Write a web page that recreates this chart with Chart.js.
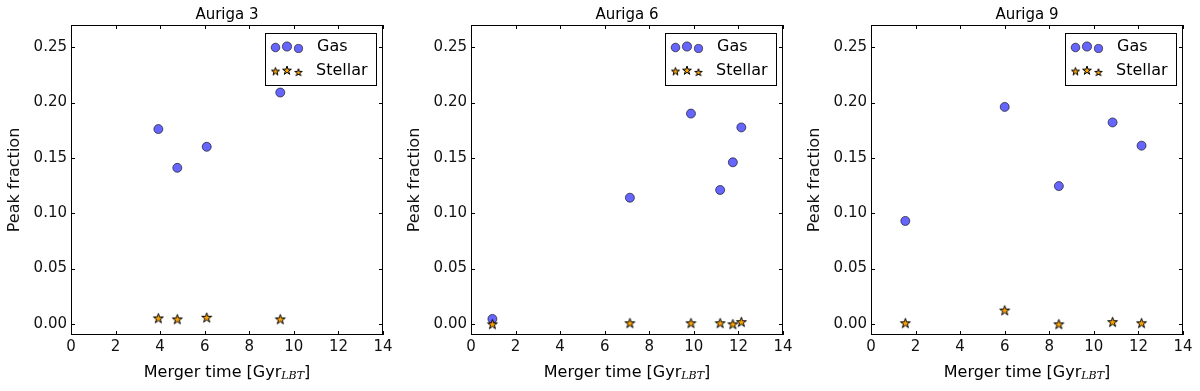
<!DOCTYPE html>
<html>
<head>
<meta charset="utf-8">
<script src="https://cdn.jsdelivr.net/npm/chart.js@4"></script>
<style>
  body { margin: 0; background: #fff; }
  .panel { position: absolute; top: 0; width: 400px; height: 391px; }
</style>
</head>
<body>
<div class="panel" style="left:0"><canvas id="c3"></canvas></div>
<div class="panel" style="left:400px"><canvas id="c6"></canvas></div>
<div class="panel" style="left:800px"><canvas id="c9"></canvas></div>
<script>
// tick values
const xTicks = [0, 2, 4, 6, 8, 10, 12, 14];
const yTicks = [0, 0.05, 0.10, 0.15, 0.20, 0.25];

// Auriga 3
const au3Time = [3.92, 4.77, 6.09, 9.39];
const au3Gas = [0.176, 0.141, 0.160, 0.209];
const au3Stellar = [0.0054, 0.0045, 0.006, 0.0045];

// Auriga 6
const au6Time = [0.96, 7.13, 9.87, 11.18, 11.75, 12.13];
const au6Gas = [0.0045, 0.114, 0.190, 0.121, 0.146, 0.1775];
const au6Stellar = [0.0, 0.001, 0.001, 0.001, 0.0, 0.002];

// Auriga 9
const au9Time = [1.54, 6.0, 8.43, 10.84, 12.14];
const au9Gas = [0.093, 0.196, 0.1245, 0.182, 0.161];
const au9Stellar = [0.001, 0.0125, 0.0, 0.002, 0.001];

const FONT = "'DejaVu Sans', sans-serif";
const gasFill = 'rgba(0,0,255,0.6)';
const gasEdge = 'rgba(0,0,0,0.6)';

// 5 point star marker as an image
function makeStar(r) {
  const c = document.createElement('canvas');
  const s = Math.ceil(r * 2 + 4);
  c.width = s; c.height = s;
  const g = c.getContext('2d');
  g.beginPath();
  for (let i = 0; i < 10; i++) {
    const rad = i % 2 === 0 ? r : r * 0.382;
    const a = -Math.PI / 2 + i * Math.PI / 5;
    g.lineTo(s / 2 + rad * Math.cos(a), s / 2 + 0.6 + rad * Math.sin(a));
  }
  g.closePath();
  g.fillStyle = '#ffa500';
  g.fill();
  g.lineWidth = 1;
  g.strokeStyle = '#000';
  g.stroke();
  return c;
}
const star = makeStar(5.2);
const legendStars = [makeStar(4.2), makeStar(4.6), makeStar(3.9)];

const framePlugin = {
  id: 'frame',
  afterDraw(chart) {
    const {ctx, chartArea: a, scales} = chart;
    ctx.save();
    ctx.strokeStyle = '#000';
    ctx.lineWidth = 1;
    ctx.strokeRect(a.left + 0.5, a.top + 0.5, a.right - a.left - 1, a.bottom - a.top - 1);
    ctx.beginPath();
    xTicks.forEach(v => {
      const x = Math.round(scales.x.getPixelForValue(v)) + 0.5;
      ctx.moveTo(x, a.bottom); ctx.lineTo(x, a.bottom - 4);
      ctx.moveTo(x, a.top); ctx.lineTo(x, a.top + 4);
    });
    yTicks.forEach(v => {
      const y = Math.round(scales.y.getPixelForValue(v)) + 0.5;
      ctx.moveTo(a.left, y); ctx.lineTo(a.left + 4, y);
      ctx.moveTo(a.right, y); ctx.lineTo(a.right - 4, y);
    });
    ctx.stroke();

    // title
    const cx = (a.left + a.right) / 2;
    ctx.fillStyle = '#000';
    ctx.font = '15px ' + FONT;
    ctx.textAlign = 'center';
    ctx.textBaseline = 'middle';
    ctx.fillText(chart.options.plugins.panelTitle, cx, 15);

    // x axis label with subscript
    const main = 'Merger time [Gyr';
    ctx.font = '16px ' + FONT;
    const w1 = ctx.measureText(main).width;
    ctx.font = "italic 11px 'DejaVu Serif', serif";
    const w2 = ctx.measureText('LBT').width;
    ctx.font = '16px ' + FONT;
    const w3 = ctx.measureText(']').width;
    let x0 = cx - (w1 + w2 + w3) / 2;
    ctx.textAlign = 'left';
    ctx.textBaseline = 'alphabetic';
    const base = 377;
    ctx.fillText(main, x0, base);
    ctx.font = "italic 11px 'DejaVu Serif', serif";
    ctx.fillText('LBT', x0 + w1, base + 2);
    ctx.font = '16px ' + FONT;
    ctx.fillText(']', x0 + w1 + w2, base);

    // legend
    const lx = a.right - 118, ly = a.top + 8, lw = 111, lh = 52;
    ctx.fillStyle = '#fff';
    ctx.fillRect(lx, ly, lw, lh);
    ctx.strokeStyle = '#000';
    ctx.strokeRect(lx + 0.5, ly + 0.5, lw, lh);
    const gx = [10.5, 22, 33.5], gy = [14.5, 13.5, 15.5], sy = [38, 37, 39], gr = [4.3, 4.6, 4.1];
    gx.forEach((dx, i) => {
      ctx.beginPath();
      ctx.arc(lx + dx, ly + gy[i], gr[i], 0, Math.PI * 2);
      ctx.fillStyle = gasFill; ctx.fill();
      ctx.strokeStyle = gasEdge; ctx.stroke();
      const st = legendStars[i];
      ctx.drawImage(st, lx + dx - st.width / 2, ly + sy[i] - st.height / 2);
    });
    ctx.fillStyle = '#000';
    ctx.font = '16px ' + FONT;
    ctx.textBaseline = 'middle';
    ctx.fillText('Gas', lx + 52, ly + 14);
    ctx.fillText('Stellar', lx + 51, ly + 37.5);
    ctx.restore();
  }
};

function pts(xs, ys) {
  return xs.map((x, i) => ({x: x, y: ys[i]}));
}

function makePanel(id, title, time, gas, stellar) {
  new Chart(document.getElementById(id), {
    type: 'scatter',
    data: {
      datasets: [{
        label: 'Gas',
        data: pts(time, gas),
        order: 1,
        pointStyle: 'circle',
        pointRadius: 4.5,
        pointHoverRadius: 4.5,
        backgroundColor: gasFill,
        borderColor: gasEdge,
        borderWidth: 1
      }, {
        label: 'Stellar',
        data: pts(time, stellar),
        order: 0,
        pointStyle: star,
        pointRadius: 5
      }]
    },
    options: {
      responsive: true,
      maintainAspectRatio: false,
      animation: false,
      events: [],
      layout: { padding: { top: 25, right: 17, left: 0, bottom: 0 } },
      plugins: { legend: { display: false }, tooltip: { enabled: false }, panelTitle: title },
      scales: {
        x: {
          type: 'linear', min: 0, max: 14,
          afterBuildTicks: s => { s.ticks = xTicks.map(v => ({value: v})); },
          afterFit: s => { s.height = 56; },
          grid: { display: false, drawTicks: false },
          border: { display: false },
          ticks: { padding: 3, color: '#111', font: { family: FONT, size: 15 } }
        },
        y: {
          type: 'linear', min: -0.01, max: 0.27,
          afterBuildTicks: s => { s.ticks = yTicks.map(v => ({value: v})); },
          afterFit: s => { s.width = 71; },
          grid: { display: false, drawTicks: false },
          border: { display: false },
          ticks: { padding: 4, color: '#111', font: { family: FONT, size: 15 },
                   callback: v => v.toFixed(2) },
          title: { display: true, text: 'Peak fraction', color: '#111',
                   font: { family: FONT, size: 16 }, padding: { top: 5, bottom: 0 } }
        }
      }
    },
    plugins: [framePlugin]
  });
}

makePanel('c3', 'Auriga 3', au3Time, au3Gas, au3Stellar);
makePanel('c6', 'Auriga 6', au6Time, au6Gas, au6Stellar);
makePanel('c9', 'Auriga 9', au9Time, au9Gas, au9Stellar);
</script>
</body>
</html>
